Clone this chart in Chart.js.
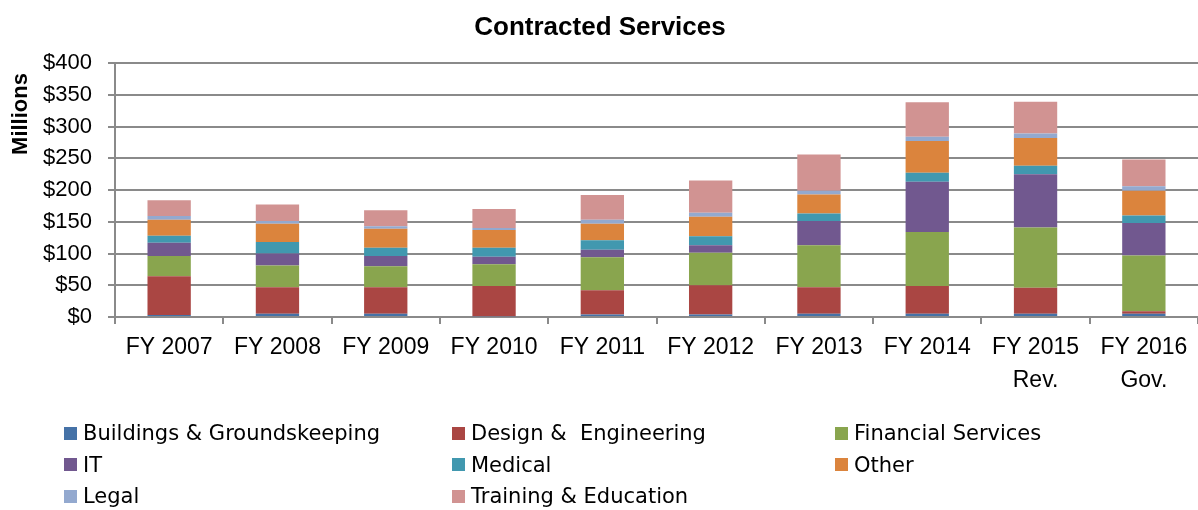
<!DOCTYPE html>
<html>
<head>
<meta charset="utf-8">
<script src="https://cdn.jsdelivr.net/npm/chart.js@4.4.0/dist/chart.umd.min.js"></script>
<style>
  html, body { margin: 0; padding: 0; background: #fff; }
  #wrap { position: relative; width: 1198px; height: 510px; overflow: hidden; }
  #c { position: absolute; left: 0; top: 0; }
  .lg { position: absolute; display: flex; align-items: center; height: 30px;
        font-family: "DejaVu Sans", sans-serif; font-size: 21px; color: #000; white-space: pre; }
  .lg span.box { display: inline-block; width: 13px; height: 13px; margin-right: 6px; }
</style>
</head>
<body>
<div id="wrap">
  <canvas id="c" width="1198" height="510"></canvas>
</div>
<script>
// ---- Data ($ millions) ----
const categories = [
  "FY 2007", "FY 2008", "FY 2009", "FY 2010", "FY 2011",
  "FY 2012", "FY 2013", "FY 2014", ["FY 2015", "Rev."], ["FY 2016", "Gov."]
];
const seriesNames = [
  "Buildings & Groundskeeping", "Design &  Engineering", "Financial Services",
  "IT", "Medical", "Other", "Legal", "Training & Education"
];
const buildings = [3, 5, 5, 1, 4, 4, 5, 5, 5, 5];
const design    = [61, 42, 42, 48, 38, 46, 42, 44, 41, 4];
const financial = [32, 34, 33, 34, 52, 51, 66, 85, 95, 88];
const it        = [21, 19, 16, 12, 12, 12, 38, 79, 84, 51];
const medical   = [11, 18, 13, 14, 15, 14, 12, 14, 13, 12];
const other     = [25, 29, 30, 28, 26, 31, 30, 50, 44, 39];
const legal     = [6, 4, 4, 3, 6, 6, 6, 7, 7, 7];
const training  = [25, 26, 25, 30, 39, 51, 57, 54, 50, 42];
const yTicks = [0, 50, 100, 150, 200, 250, 300, 350, 400];

const seriesValues = [buildings, design, financial, it, medical, other, legal, training];
const colors = ["#4572A7", "#AA4643", "#89A54E", "#71588F", "#4198AF", "#DB843D", "#93A9CF", "#D19392"];

const datasets = seriesNames.map((name, i) => ({
  label: name,
  data: seriesValues[i],
  backgroundColor: colors[i],
  borderWidth: 0,
  categoryPercentage: 1.0,
  barPercentage: 0.4
}));

const axisGray = "#8a8a8a";

const textPlugin = {
  id: "texts",
  afterDraw(chart) {
    const ctx = chart.ctx;
    ctx.save();
    ctx.fillStyle = "#000";
    ctx.textAlign = "center";
    ctx.textBaseline = "middle";
    ctx.font = "bold 26px 'Liberation Sans', Arial, sans-serif";
    ctx.fillText("Contracted Services", 600, 28);
    ctx.translate(21, 114);
    ctx.rotate(-Math.PI / 2);
    ctx.font = "bold 22px 'Liberation Sans', Arial, sans-serif";
    ctx.fillText("Millions", 0, 0);
    ctx.restore();
  }
};

new Chart(document.getElementById("c"), {
  type: "bar",
  data: { labels: categories, datasets },
  options: {
    responsive: false,
    animation: false,
    layout: { padding: { left: 0, right: 0, top: 63, bottom: 93 } },
    plugins: {
      legend: { display: false },
      title: { display: false },
      tooltip: { enabled: false }
    },
    scales: {
      x: {
        stacked: true,
        afterFit(s) { s.height = 100; },
        grid: { offset: true, drawOnChartArea: false, drawTicks: true, tickLength: 7, color: axisGray, lineWidth: 2 },
        border: { color: axisGray, width: 2 },
        ticks: {
          color: "#000",
          padding: 8,
          maxRotation: 0,
          autoSkip: false,
          font: { family: "'Liberation Sans', Arial, sans-serif", size: 23, lineHeight: 1.4 }
        }
      },
      y: {
        stacked: true,
        min: yTicks[0],
        max: yTicks[yTicks.length - 1],
        afterFit(s) { s.width = 115; },
        afterBuildTicks(s) { s.ticks = yTicks.map(v => ({ value: v })); },
        grid: { color: axisGray, lineWidth: 2, tickLength: 7 },
        border: { color: axisGray, width: 2 },
        ticks: {
          color: "#000",
          padding: 16,
          font: { family: "'Liberation Sans', Arial, sans-serif", size: 22 },
          callback: v => "$" + v
        }
      }
    }
  },
  plugins: [textPlugin]
});

// ---- HTML legend built from series names and colours ----
const wrap = document.getElementById("wrap");
const colX = [64, 452, 835];
const rowY = [418, 449.5, 481];
seriesNames.forEach((name, i) => {
  const d = document.createElement("div");
  d.className = "lg";
  d.style.left = colX[i % 3] + "px";
  d.style.top = rowY[Math.floor(i / 3)] + "px";
  const b = document.createElement("span");
  b.className = "box";
  b.style.background = colors[i];
  d.appendChild(b);
  d.appendChild(document.createTextNode(name));
  wrap.appendChild(d);
});
</script>
</body>
</html>
